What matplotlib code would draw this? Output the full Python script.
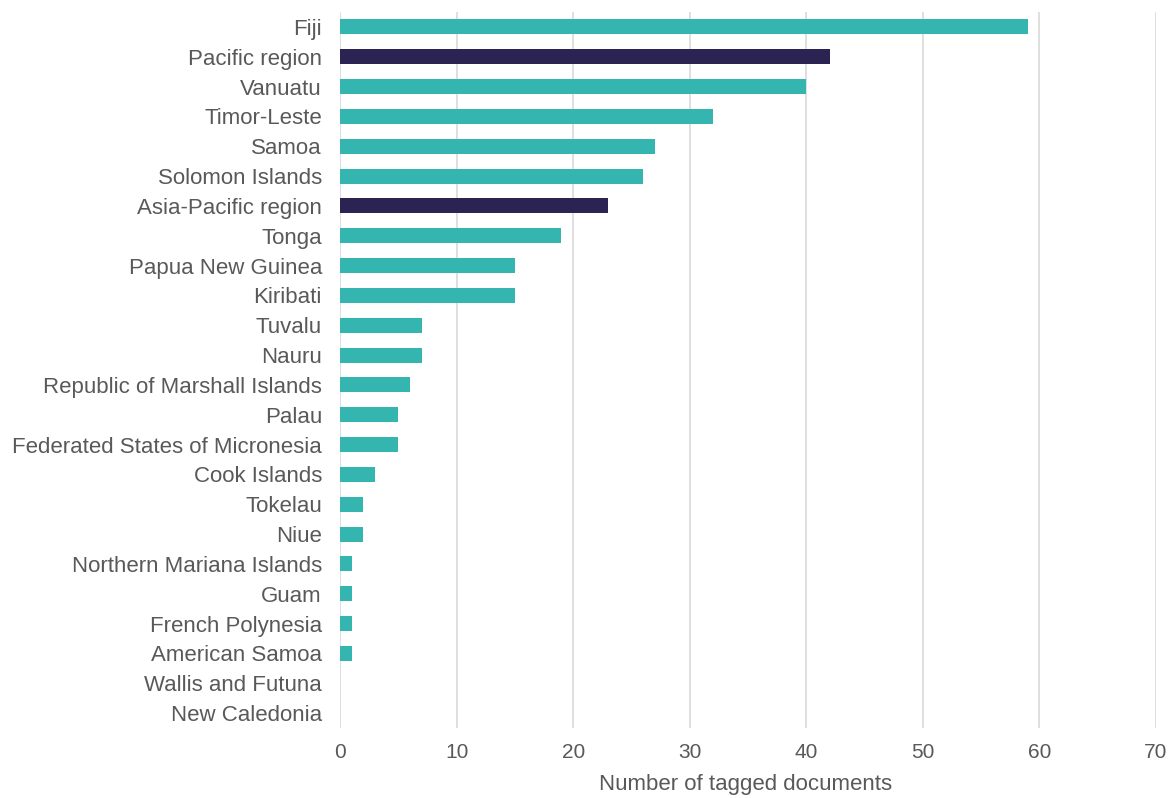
import matplotlib
matplotlib.use('Agg')
import matplotlib.pyplot as plt

countries = ['Fiji', 'Pacific region', 'Vanuatu', 'Timor-Leste', 'Samoa',
             'Solomon Islands', 'Asia-Pacific region', 'Tonga', 'Papua New Guinea',
             'Kiribati', 'Tuvalu', 'Nauru', 'Republic of Marshall Islands', 'Palau',
             'Federated States of Micronesia', 'Cook Islands', 'Tokelau', 'Niue',
             'Northern Mariana Islands', 'Guam', 'French Polynesia', 'American Samoa',
             'Wallis and Futuna', 'New Caledonia']
counts = [59, 42, 40, 32, 27, 26, 23, 19, 15, 15, 7, 7, 6, 5, 5, 3, 2, 2,
          1, 1, 1, 1, 0, 0]
regional = ['Pacific region', 'Asia-Pacific region']

teal = '#35b5b0'
navy = '#2b2352'
grey = '#595959'

plt.rcParams['font.family'] = ['Liberation Sans', 'DejaVu Sans']

fig = plt.figure(figsize=(11.74, 7.98), dpi=100)
ax = fig.add_axes([0.2896, 0.0877, 0.6951, 0.8973])

ypos = list(range(len(countries)))
colors = [navy if c in regional else teal for c in countries]
ax.barh(ypos, counts, height=0.5, color=colors, zorder=3)

ax.set_ylim(len(countries) - 0.5, -0.5)
ax.set_xlim(0, 70)
ax.set_xticks(range(0, 71, 10))
ax.set_yticks(ypos)
ax.set_yticklabels(countries, fontsize=16)
ax.grid(axis='x', color='#d9d9d9', linewidth=1.2, zorder=0)
for s in ax.spines.values():
    s.set_visible(False)
ax.tick_params(axis='both', length=0, colors=grey)
ax.tick_params(axis='x', pad=11, labelsize=15)
ax.tick_params(axis='y', pad=13)
ax.set_xlabel('Number of tagged documents', fontsize=16, color=grey)
ax.xaxis.set_label_coords(0.4975, -0.064)

fig.savefig('out.png', dpi=100)
